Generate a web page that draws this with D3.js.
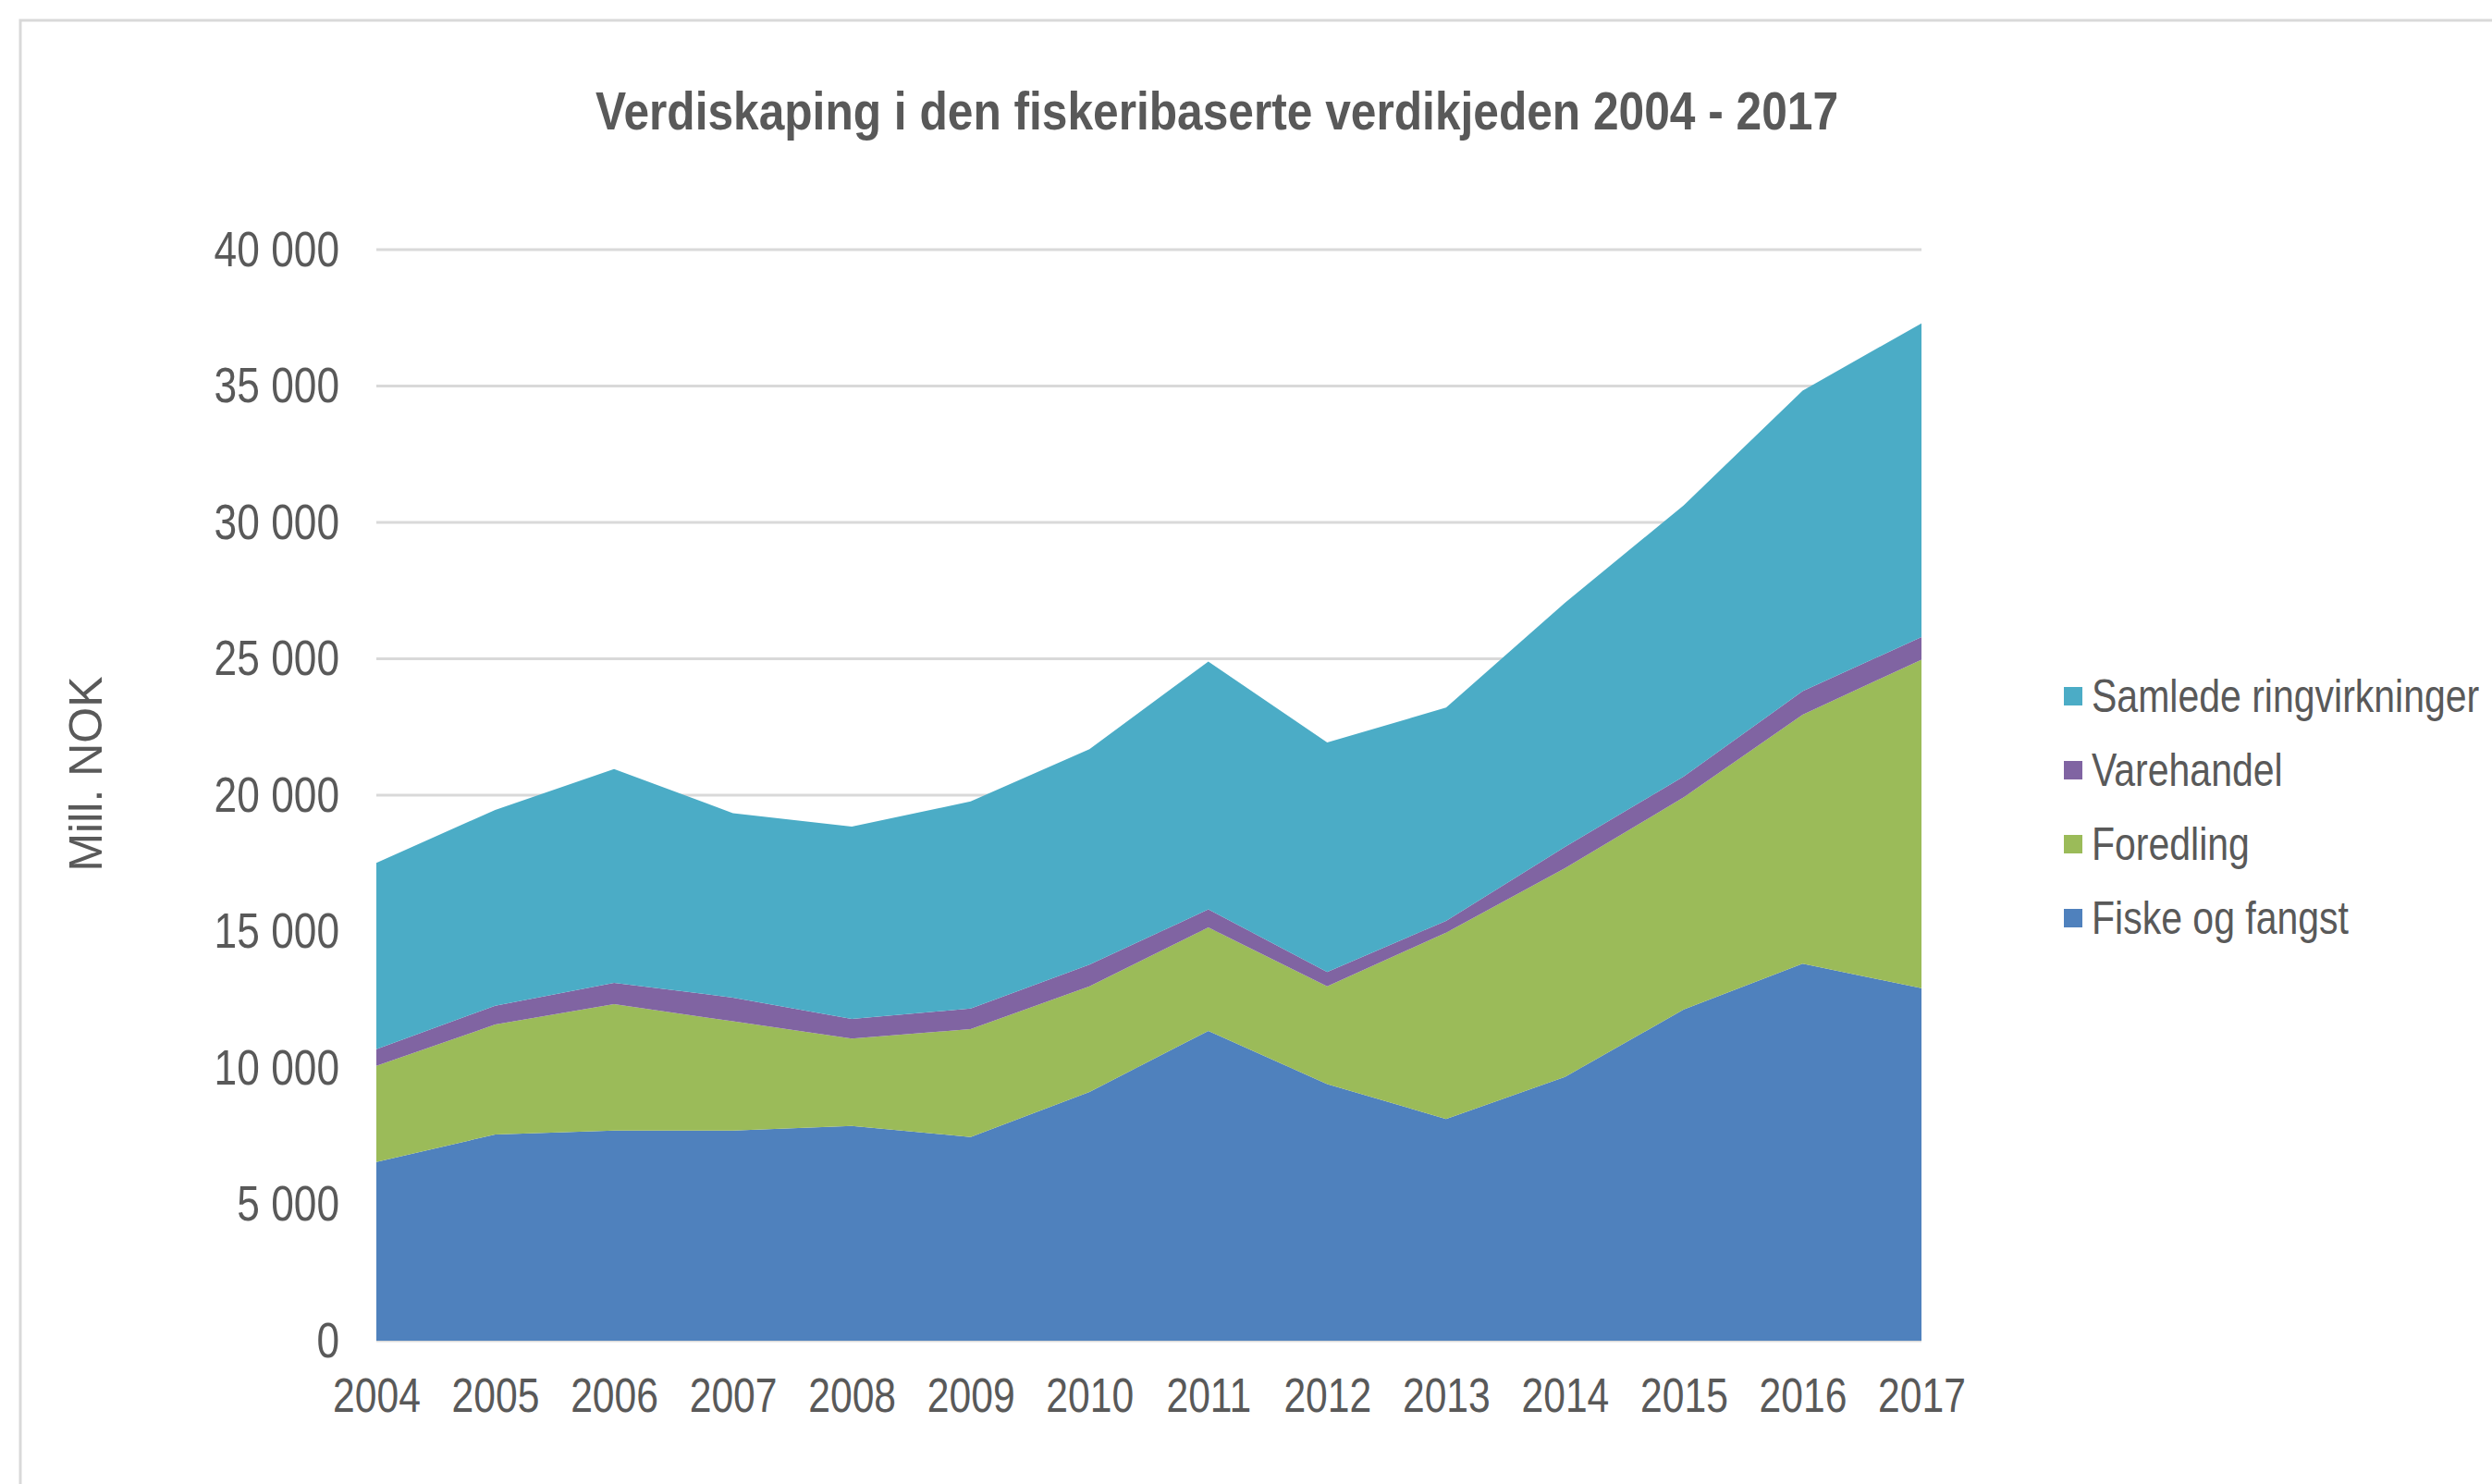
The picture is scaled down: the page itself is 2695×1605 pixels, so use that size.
<!DOCTYPE html>
<html>
<head>
<meta charset="utf-8">
<script src="https://cdn.jsdelivr.net/npm/d3@7"></script>
<style>
  html, body { margin: 0; padding: 0; background: #fff; }
  svg { display: block; }
</style>
</head>
<body>
<svg id="chart" width="2695" height="1605"></svg>
<script>
// data (Mill. NOK)
var years = [2004, 2005, 2006, 2007, 2008, 2009, 2010, 2011, 2012, 2013, 2014, 2015, 2016, 2017];
var fiskeOgFangst = [6550, 7560, 7700, 7700, 7870, 7470, 9120, 11360, 9410, 8130, 9670, 12140, 13820, 12920];
var foredling = [3530, 4030, 4640, 4010, 3210, 3950, 3870, 3790, 3580, 6830, 7650, 7780, 9130, 12050];
var varehandel = [610, 690, 780, 870, 720, 760, 800, 660, 530, 430, 780, 770, 860, 830];
var samledeRingvirkninger = [6830, 7180, 7840, 6760, 7050, 7590, 7900, 9090, 8410, 7820, 8950, 9940, 11020, 11500];
var yTicks = [0, 5000, 10000, 15000, 20000, 25000, 30000, 35000, 40000];

var seriesNames = ['Fiske og fangst', 'Foredling', 'Varehandel', 'Samlede ringvirkninger'];
var seriesValues = [fiskeOgFangst, foredling, varehandel, samledeRingvirkninger];
var seriesColors = ['#4F81BD', '#9BBB59', '#8064A2', '#4BACC6'];

(function() {

	var svg = d3.select('#chart'),
		font = '"Liberation Sans", Arial, sans-serif',
		textColor = '#595959',
		gridColor = '#d9d9d9',
		left = 407,
		right = 2078,
		top = 270,
		bottom = 1450;

	//no Arial Narrow here, so squeeze the glyphs to ~82% of their width
	//(scaled around the text's own x so the anchor stays put)
	function narrow(sel) {
		sel.each(function() {
			var x0 = +this.getAttribute('x') || 0;
			d3.select(this)
				.attr('transform', 'translate(' + x0 + ',0) scale(0.82,1) translate(' + (-x0) + ',0)');
		});
	}

	//outer frame of the chart object
	svg.append('rect')
		.attr('x', 22)
		.attr('y', 22)
		.attr('width', 2760)
		.attr('height', 1700)
		.attr('fill', '#fff')
		.attr('stroke', gridColor)
		.attr('stroke-width', 3);

	//build the table the stack needs
	var table = years.map(function(y, i) {
		var row = { year: y };
		seriesNames.forEach(function(name, k) { row[name] = seriesValues[k][i]; });
		return row;
	});

	var stacked = d3.stack().keys(seriesNames)(table);

	var x = d3.scalePoint()
		.domain(years)
		.range([left, right]);

	var y = d3.scaleLinear()
		.domain([0, 40000])
		.range([bottom, top]);

	//gridlines
	svg.append('g')
		.selectAll('line')
		.data(yTicks)
		.enter()
			.append('line')
			.attr('x1', left)
			.attr('x2', right)
			.attr('y1', function(d) { return y(d); })
			.attr('y2', function(d) { return y(d); })
			.attr('stroke', gridColor)
			.attr('stroke-width', 3);

	var area = d3.area()
		.x(function(d) { return x(d.data.year); })
		.y0(function(d) { return y(d[0]); })
		.y1(function(d) { return y(d[1]); });

	svg.append('g')
		.selectAll('path')
		.data(stacked)
		.enter()
			.append('path')
			.attr('d', area)
			.attr('fill', function(d, i) { return seriesColors[i]; });

	//y axis labels
	var yAxis = d3.axisLeft(y)
		.tickValues(yTicks)
		.tickSize(0)
		.tickPadding(40)
		.tickFormat(function(d) { return d3.format(',')(d).replace(/,/g, ' '); });

	svg.append('g')
		.attr('transform', 'translate(' + left + ',0)')
		.call(yAxis)
		.call(function(g) { g.select('.domain').remove(); })
		.selectAll('text')
			.attr('fill', textColor)
			.attr('font-family', font)
			.attr('font-size', 54)
			.call(narrow);

	//x axis labels
	var xAxis = d3.axisBottom(x)
		.tickSize(0)
		.tickPadding(40);

	svg.append('g')
		.attr('transform', 'translate(0,' + bottom + ')')
		.call(xAxis)
		.call(function(g) { g.select('.domain').remove(); })
		.selectAll('text')
			.attr('fill', textColor)
			.attr('font-family', font)
			.attr('font-size', 52)
			.call(narrow);

	//axis title
	svg.append('text')
		.attr('transform', 'translate(110,837) rotate(-90)')
		.attr('text-anchor', 'middle')
		.attr('fill', textColor)
		.attr('font-family', font)
		.attr('font-size', 50)
		.text('Mill. NOK');

	//title
	svg.append('text')
		.attr('x', 1316)
		.attr('y', 140)
		.attr('text-anchor', 'middle')
		.attr('fill', textColor)
		.attr('font-family', font)
		.attr('font-weight', 'bold')
		.attr('font-size', 58)
		.attr('textLength', 1344)
		.attr('lengthAdjust', 'spacingAndGlyphs')
		.text('Verdiskaping i den fiskeribaserte verdikjeden 2004 - 2017');

	//legend, top entry is the top layer
	var legendOrder = [3, 2, 1, 0];

	var legend = svg.append('g')
		.selectAll('g')
		.data(legendOrder)
		.enter()
			.append('g')
			.attr('transform', function(d, i) { return 'translate(2232,' + (753 + i * 80) + ')'; });

	legend.append('rect')
		.attr('x', 0)
		.attr('y', -10)
		.attr('width', 20)
		.attr('height', 20)
		.attr('fill', function(d) { return seriesColors[d]; });

	legend.append('text')
		.attr('x', 30)
		.attr('y', 17)
		.attr('fill', textColor)
		.attr('font-family', font)
		.attr('font-size', 50)
		.text(function(d) { return seriesNames[d]; })
		.call(narrow);

}())
</script>
</body>
</html>
